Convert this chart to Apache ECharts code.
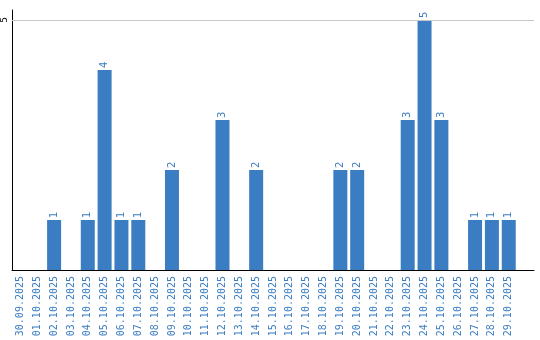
<!DOCTYPE html>
<html>
<head>
<meta charset="utf-8">
<script src="https://cdn.jsdelivr.net/npm/echarts@6/dist/echarts.min.js"></script>
<style>
  html, body { margin: 0; padding: 0; background: #fff; }
  #chart { width: 540px; height: 340px; }
</style>
</head>
<body>
<div id="chart"></div>
<script>
const days = [
  '30.09.2025', '01.10.2025', '02.10.2025', '03.10.2025', '04.10.2025',
  '05.10.2025', '06.10.2025', '07.10.2025', '08.10.2025', '09.10.2025',
  '10.10.2025', '11.10.2025', '12.10.2025', '13.10.2025', '14.10.2025',
  '15.10.2025', '16.10.2025', '17.10.2025', '18.10.2025', '19.10.2025',
  '20.10.2025', '21.10.2025', '22.10.2025', '23.10.2025', '24.10.2025',
  '25.10.2025', '26.10.2025', '27.10.2025', '28.10.2025', '29.10.2025'
]
const counts = [
  0, 0, 1, 0, 1, 4, 1, 1, 0, 2,
  0, 0, 3, 0, 2, 0, 0, 0, 0, 2,
  2, 0, 0, 3, 5, 3, 0, 1, 1, 1
]
const yTicks = [5]

const blue = '#3b7dc2'
const chart = echarts.init(document.getElementById('chart'))
chart.setOption({
  animation: false,
  grid: { left: 9, right: 6, top: 10, bottom: 70 },
  xAxis: {
    type: 'category',
    data: days,
    max: days.length,
    axisLine: { lineStyle: { color: '#000', width: 1 } },
    axisTick: { show: false },
    axisLabel: {
      interval: 0,
      rotate: 90,
      margin: 6,
      color: blue,
      fontFamily: 'DejaVu Sans Mono',
      fontSize: 10,
      formatter: v => (days.indexOf(v) >= 0 ? v : '')
    }
  },
  yAxis: {
    type: 'value',
    min: 0,
    max: 5.2,
    interval: 5,
    axisLine: { show: true, lineStyle: { color: '#000', width: 1 } },
    axisTick: { show: false },
    splitLine: { show: false },
    axisLabel: {
      rotate: 90,
      margin: 3,
      color: '#000',
      fontFamily: 'DejaVu Sans',
      fontSize: 9,
      formatter: v => (yTicks.indexOf(v) >= 0 ? String(v) : '')
    }
  },
  series: [{
    type: 'bar',
    data: counts.map(v => (v === 0 ? null : v)),
    barWidth: 14,
    itemStyle: { color: blue },
    label: {
      show: true,
      position: 'top',
      rotate: 90,
      align: 'left',
      verticalAlign: 'middle',
      distance: 2,
      color: blue,
      fontFamily: 'DejaVu Sans',
      fontSize: 10
    },
    markLine: {
      silent: true,
      symbol: 'none',
      label: { show: false },
      lineStyle: { color: '#c8c8c8', type: 'solid', width: 1 },
      data: yTicks.map(t => ({ yAxis: t }))
    },
    z: 3
  }]
})
</script>
</body>
</html>
